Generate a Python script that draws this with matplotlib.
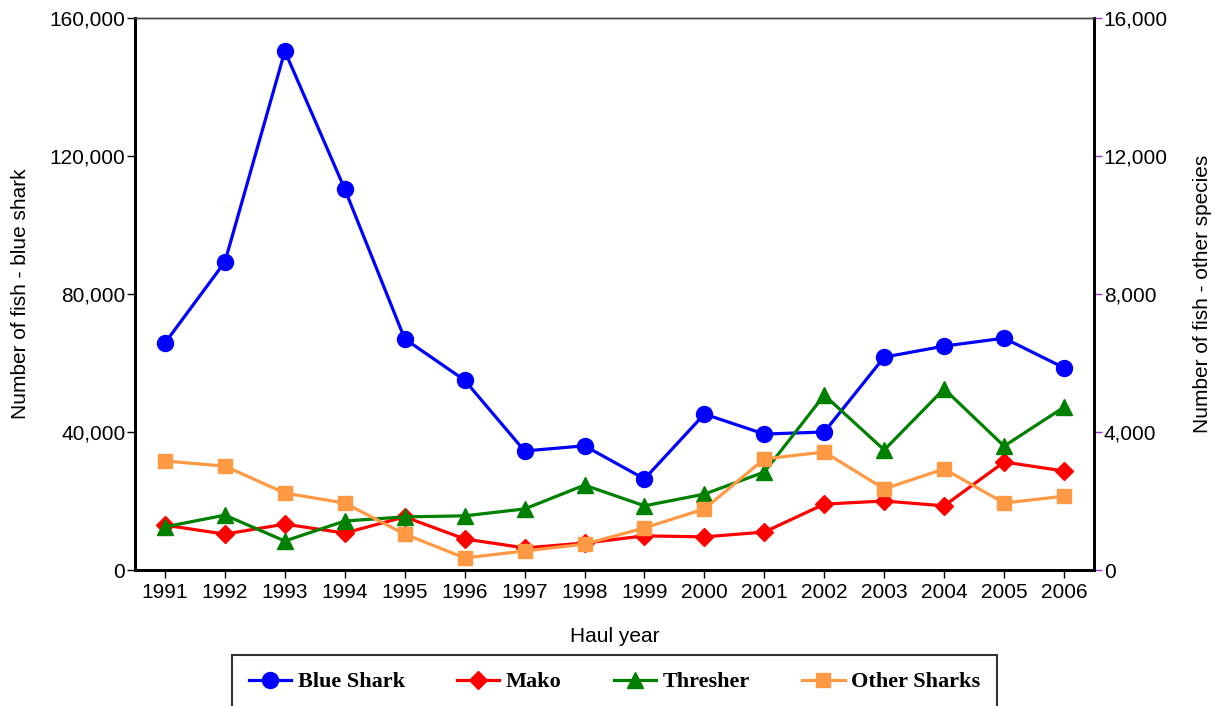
import numpy as np
import matplotlib.pyplot as plt
from matplotlib.ticker import FuncFormatter

years = list(range(1991, 2007))
blue_shark = [65800, 89300, 150400, 110400, 67000, 55000, 34500, 36000,
              26400, 45200, 39400, 40000, 61700, 64900, 67200, 58600]
mako = [1300, 1040, 1330, 1070, 1540, 900, 640, 780,
        990, 960, 1100, 1910, 2000, 1860, 3130, 2870]
thresher = [1250, 1590, 840, 1420, 1540, 1570, 1770, 2460,
            1860, 2200, 2840, 5070, 3480, 5250, 3590, 4720]
other_sharks = [3160, 3010, 2230, 1940, 1040, 350, 550, 750,
                1220, 1770, 3220, 3420, 2350, 2930, 1940, 2140]

plt.rcParams['font.family'] = ['Liberation Sans', 'DejaVu Sans']

fig = plt.figure(figsize=(12.23, 7.06), dpi=100)
ax = fig.add_axes([135/1223, 1 - 570/706, (1094-135)/1223, (570-18)/706])
ax2 = ax.twinx()

fmt = FuncFormatter(lambda v, p: f'{int(v):,}')

l1, = ax.plot(years, blue_shark, color='#0000ff', marker='o', ms=11.5, lw=2.3)
l2, = ax2.plot(years, mako, color='#ff0000', marker='D', ms=9, lw=2.3)
l3, = ax2.plot(years, thresher, color='#008000', marker='^', ms=11.5, lw=2.3)
l4, = ax2.plot(years, other_sharks, color='#ff9944', marker='s', ms=10.5, lw=2.3)

ax.set_xlim(1990.5, 2006.5)
ax.set_ylim(0, 160000)
ax2.set_ylim(0, 16000)
ax.set_xticks(years)
ax.set_yticks(np.arange(0, 160001, 40000))
ax2.set_yticks(np.arange(0, 16001, 4000))
ax.yaxis.set_major_formatter(fmt)
ax2.yaxis.set_major_formatter(fmt)

for a in (ax, ax2):
    a.tick_params(labelsize=15, length=6, width=1)
    for s in ['left', 'right', 'bottom']:
        a.spines[s].set_linewidth(2)
        a.spines[s].set_color('black')
    a.spines['top'].set_linewidth(1)
    a.spines['top'].set_color('#444444')
ax2.tick_params(axis='y', color='#9933cc', pad=1)
ax.tick_params(axis='y', pad=1)
ax.tick_params(axis='x', pad=3)

ax.set_xlabel('Haul year', fontsize=15, labelpad=18)
ax.set_ylabel('Number of fish - blue shark', fontsize=15, labelpad=14)
ax2.set_ylabel('Number of fish - other species', fontsize=15, labelpad=18)

leg = fig.legend([l1, l2, l3, l4], ['Blue Shark', 'Mako', 'Thresher', 'Other Sharks'],
                 loc='lower left', bbox_to_anchor=(232/1223, -3/706, (997-232)/1223, 57/706),
                 mode='expand', ncol=4, frameon=True, fancybox=False,
                 prop={'family': 'Liberation Serif', 'weight': 'bold', 'size': 16},
                 handlelength=1.9, handletextpad=0.3, borderaxespad=0,
                 borderpad=0.75, markerscale=1.0)
leg.get_frame().set_edgecolor('black')
leg.get_frame().set_linewidth(1.5)

fig.savefig('out.png', dpi=100)
